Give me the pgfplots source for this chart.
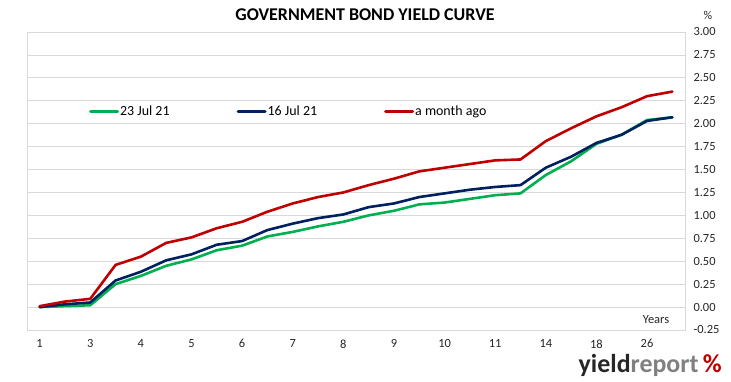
\documentclass[border=0pt]{standalone}
\usepackage{fontspec}
\setmainfont{Carlito}
\usepackage{pgfplots}
\usepackage{pgfplotstable}
\pgfplotsset{compat=1.18}
\definecolor{cgreen}{RGB}{0,176,80}
\definecolor{cnavy}{RGB}{0,32,96}
\definecolor{cred}{RGB}{192,0,0}
\definecolor{cgrid}{RGB}{217,217,217}
\definecolor{ctext}{RGB}{38,38,38}
\pgfplotstableread{
x g n r
0 0.00 0.00 0.01
1 0.01 0.03 0.06
2 0.02 0.05 0.09
3 0.25 0.29 0.46
4 0.34 0.385 0.55
5 0.45 0.51 0.70
6 0.52 0.575 0.76
7 0.62 0.68 0.86
8 0.67 0.72 0.93
9 0.77 0.84 1.04
10 0.82 0.91 1.13
11 0.88 0.97 1.20
12 0.93 1.01 1.25
13 1.00 1.09 1.33
14 1.05 1.13 1.40
15 1.12 1.20 1.48
16 1.14 1.24 1.52
17 1.18 1.28 1.56
18 1.22 1.31 1.60
19 1.24 1.33 1.61
20 1.44 1.52 1.81
21 1.59 1.64 1.95
22 1.78 1.79 2.08
23 1.88 1.88 2.18
24 2.04 2.03 2.30
25 2.07 2.07 2.35
}\yieldtable
\begin{document}
\begin{tikzpicture}[x=1bp,y=1bp]
\useasboundingbox (0,0) rectangle (731,381);
\begin{axis}[
  at={(27bp,51bp)}, anchor=south west,
  scale only axis, width=658bp, height=298bp,
  xmin=-0.5, xmax=25.5, ymin=-0.25, ymax=3,
  xtick={0,2,4,6,8,10,12,14,16,18,20,22,24},
  xticklabels={1,3,4,5,6,7,8,9,10,11,14,18,26},
  ytick={-0.25,0,0.25,0.5,0.75,1,1.25,1.5,1.75,2,2.25,2.5,2.75,3},
  yticklabel pos=right,
  major tick length=0pt,
  ymajorgrids,
  grid style={cgrid, line width=0.75bp},
  axis line style={cgrid, line width=0.75bp},
  ticklabel style={font=\fontsize{12.5}{14}\selectfont, text=ctext},
  yticklabel style={anchor=west, xshift=5bp, /pgf/number format/.cd, fixed, fixed zerofill, precision=2, assume math mode=true},
  xticklabel style={yshift=-6bp, /pgf/number format/assume math mode=true},
  legend style={at={(rel axis cs:0.094,0.732)}, anchor=west, draw=none, fill=none,
    inner sep=0pt, font=\fontsize{14}{16}\selectfont, text=black,
    nodes={inner sep=1bp},
    /tikz/every even column/.append style={column sep=66bp}},
  legend columns=3,
  legend image code/.code={\draw[#1, line width=3bp] (0bp,0bp) -- (27bp,0bp);},
  every axis plot/.append style={line width=2.6bp, line join=round, line cap=round, mark=none},
]
\addplot[cgreen] table[x=x, y=g] {\yieldtable};
\addlegendentry{23 Jul 21}
\addplot[cnavy] table[x=x, y=n] {\yieldtable};
\addlegendentry{16 Jul 21}
\addplot[cred] table[x=x, y=r] {\yieldtable};
\addlegendentry{a month ago}
\end{axis}
\node[font=\bfseries\fontsize{18}{20}\selectfont, text=black] at (365,366) {GOVERNMENT BOND YIELD CURVE};
\node[font=\fontsize{12}{14}\selectfont, text=ctext] at (708,366) {\%};
\node[font=\fontsize{12.5}{14}\selectfont, text=ctext] at (656,61) {Years};
\node[font=\bfseries\fontsize{26}{28}\selectfont, inner sep=0pt, anchor=east] at (722,16) {\textcolor{ctext}{yield}\textcolor{gray}{report}\,\textcolor{cred}{\%}};
\end{tikzpicture}
\end{document}
